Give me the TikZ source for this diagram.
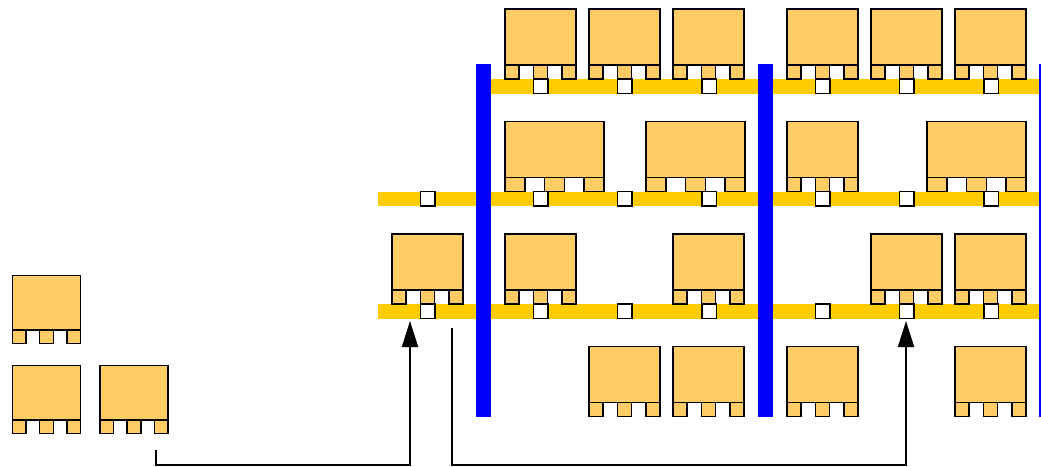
\documentclass[tikz,border=0pt]{standalone}
\usetikzlibrary{arrows.meta}
\definecolor{palletfill}{HTML}{FFCC66}
\definecolor{shelfyellow}{HTML}{FFCC00}
\definecolor{rackblue}{HTML}{0000FF}
\tikzset{
  palletbox/.style={draw=black,fill=palletfill,line width=1.5pt},
  slot/.style={draw=black,fill=white,line width=1.5pt},
  shelf/.style={fill=shelfyellow},
  upright/.style={fill=rackblue},
  move/.style={-{Triangle[length=26pt,width=16pt]},line width=2pt}
}
% #1 left x, #2 floor y, #3 width, #4 height
\newcommand{\pallet}[4]{%
  \draw[palletbox] (#1,#2-#4) rectangle (#1+#3,#2-#4/5);
  \draw[palletbox] (#1,#2-#4/5) rectangle (#1+#3/5,#2);
  \draw[palletbox] (#1+2*#3/5,#2-#4/5) rectangle (#1+3*#3/5,#2);
  \draw[palletbox] (#1+4*#3/5,#2-#4/5) rectangle (#1+#3,#2);
}
\newcommand{\slotbox}[2]{%
  \draw[slot] (#1-7.25,#2) rectangle (#1+7.25,#2+14.5);
}
\begin{document}
\begin{tikzpicture}[x=1pt,y=-1pt]
\clip (0,0) rectangle (1041,466);

\coordinate (S1) at (156,450);
\coordinate (T1) at (410,321);
\coordinate (S2) at (452,328);
\coordinate (T2) at (906,321);

% shelves
\fill[shelf] (476,79) rectangle (1041,93.5);
\fill[shelf] (378,191.5) rectangle (1041,206);
\fill[shelf] (378,304) rectangle (1041,318.5);

% uprights
\foreach \u in {476,758,1039}
  {\fill[upright] (\u,64) rectangle (\u+15,416.5);}

% level 1
\pallet{505}{79}{71}{70}
\pallet{589}{79}{71}{70}
\pallet{673}{79}{71}{70}
\pallet{787}{79}{71}{70}
\pallet{871}{79}{71}{70}
\pallet{955}{79}{71}{70}

% level 2
\pallet{505}{191.5}{99}{70}
\pallet{646}{191.5}{99}{70}
\pallet{787}{191.5}{71}{70}
\pallet{927}{191.5}{99}{70}

% level 3
\pallet{392}{304}{71}{70}
\pallet{505}{304}{71}{70}
\pallet{673}{304}{71}{70}
\pallet{871}{304}{71}{70}
\pallet{955}{304}{71}{70}

% floor
\pallet{589}{416.5}{71}{70}
\pallet{673}{416.5}{71}{70}
\pallet{787}{416.5}{71}{70}
\pallet{955}{416.5}{71}{70}

% waiting pallets
\pallet{12.5}{343.5}{68}{68}
\pallet{12.5}{433.5}{68}{68}
\pallet{100}{433.5}{68}{68}

% slots
\foreach \s in {540.5,624.5,709,822.5,906.5,991}
  {\slotbox{\s}{79}}
\foreach \s in {427.5,540.5,624.5,709,822.5,906.5,991}
  {\slotbox{\s}{191.5}\slotbox{\s}{304}}

\draw[move] (S1) -- ++(0,14.5) -| (T1);
\draw[move] (S2) -- ++(0,136.5) -| (T2);

\end{tikzpicture}
\end{document}
